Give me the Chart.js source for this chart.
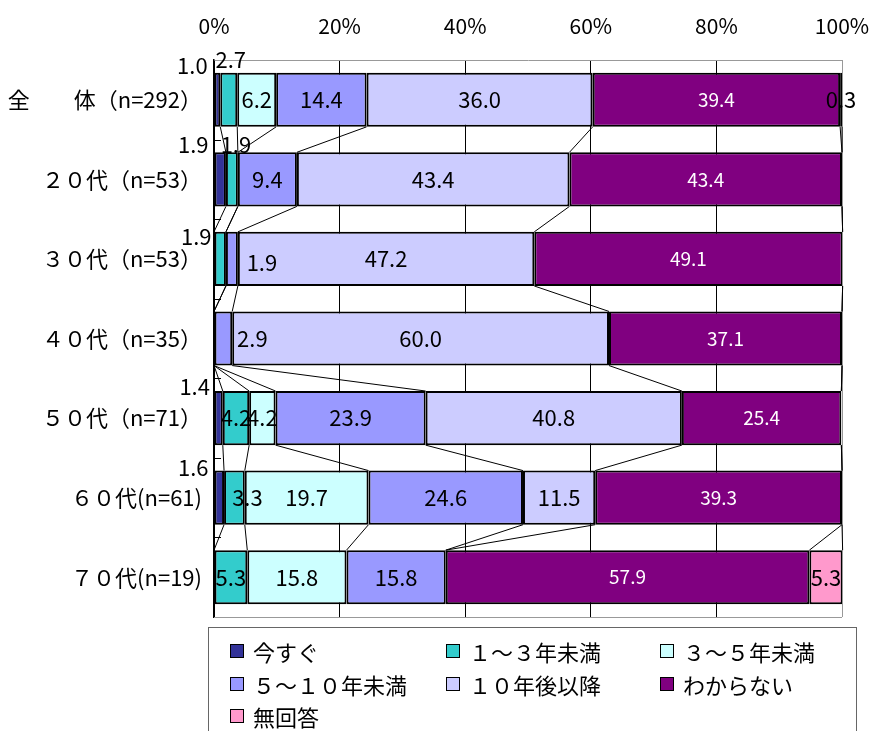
<!DOCTYPE html>
<html>
<head>
<meta charset="utf-8">
<script src="https://cdn.jsdelivr.net/npm/chart.js@4/dist/chart.umd.min.js"></script>
<style>
  body { margin: 0; background: #fff; }
  #wrap { position: relative; width: 871px; height: 731px; overflow: hidden; }
  #chart { position: absolute; left: 0; top: 0; }
  #legend {
    position: absolute; left: 208px; top: 627px; width: 649px; height: 130px;
    border: 1px solid #666; box-sizing: border-box;
    padding: 7px 0 0 21px;
    display: grid; grid-template-columns: 216px 214px 180px; grid-auto-rows: 32.5px;
    font-family: "Noto Sans CJK JP", sans-serif; font-size: 22px; color: #000;
  }
  #legend .item { display: flex; align-items: center; white-space: nowrap; }
  #legend .box { width: 12px; height: 12px; border: 1px solid #000; margin-right: 9px; }
</style>
</head>
<body>
<div id="wrap">
  <canvas id="chart" width="871" height="731"></canvas>
  <div id="legend"></div>
</div>
<script>
var categories = ['全　　体（n=292）', '２０代（n=53）', '３０代（n=53）', '４０代（n=35）', '５０代（n=71）', '６０代(n=61)', '７０代(n=19)'];
var seriesNames = ['今すぐ', '１～３年未満', '３～５年未満', '５～１０年未満', '１０年後以降', 'わからない', '無回答'];
var imaSugu   = [1.0, 1.9, 0,    0,    1.4,  1.6,  0];
var y1to3     = [2.7, 1.9, 1.9,  0,    4.2,  3.3,  5.3];
var y3to5     = [6.2, 0,   0,    0,    4.2,  19.7, 15.8];
var y5to10    = [14.4, 9.4, 1.9, 2.9,  23.9, 24.6, 15.8];
var y10plus   = [36.0, 43.4, 47.2, 60.0, 40.8, 11.5, 0];
var wakaranai = [39.4, 43.4, 49.1, 37.1, 25.4, 39.3, 57.9];
var mukaitou  = [0.3, 0,   0,    0,    0,    0,    5.3];
var xTicks = [0, 20, 40, 60, 80, 100];

var seriesValues = [imaSugu, y1to3, y3to5, y5to10, y10plus, wakaranai, mukaitou];
var colors = ['#333399', '#33CCCC', '#CCFFFF', '#9999FF', '#CCCCFF', '#800080', '#FF99CC'];
var labelColors = ['#000', '#000', '#000', '#000', '#000', '#fff', '#000'];

// small labels moved off their segment, like the original
var labelShift = {
  '0-0': [-25, -34], '0-1': [-27, -35], '0-4': [-24, -31], '0-5': [-26, -30],
  '1-0': [2, -40], '1-1': [4, -35], '1-2': [-24, -22], '1-5': [13, 0],
  '3-2': [30, 4], '3-3': [29, 0]
};

var FONT = '"Noto Sans CJK JP", sans-serif';

var datasets = seriesValues.map(function(vals, i) {
  return {
    label: seriesNames[i],
    data: vals,
    backgroundColor: colors[i],
    borderColor: '#000',
    borderWidth: function(c) { return c.raw > 0 ? 2 : 0; },
    borderSkipped: false,
    categoryPercentage: 1,
    barPercentage: 0.68
  };
});

var extras = {
  id: 'extras',
  afterDatasetsDraw: function(chart) {
    var ctx = chart.ctx, area = chart.chartArea;
    ctx.save();
    // bottom frame line
    ctx.strokeStyle = '#999';
    ctx.lineWidth = 1;
    ctx.beginPath();
    ctx.moveTo(area.left, area.bottom + 0.5);
    ctx.lineTo(area.right, area.bottom + 0.5);
    ctx.stroke();

    // inner tick marks on the category axis
    var meta0 = chart.getDatasetMeta(0);
    ctx.strokeStyle = '#000';
    for (var r = 0; r < categories.length - 1; r++) {
      var yb = (meta0.data[r].y + meta0.data[r + 1].y) / 2;
      ctx.beginPath();
      ctx.moveTo(area.left, Math.round(yb) + 0.5);
      ctx.lineTo(area.left + 7, Math.round(yb) + 0.5);
      ctx.stroke();
    }

    // series lines between bars
    ctx.lineWidth = 1;
    for (var d = 0; d < seriesValues.length; d++) {
      var meta = chart.getDatasetMeta(d);
      for (var r2 = 0; r2 < categories.length - 1; r2++) {
        var a = meta.data[r2], b = meta.data[r2 + 1];
        ctx.beginPath();
        ctx.moveTo(a.x, a.y + a.height / 2);
        ctx.lineTo(b.x, b.y - b.height / 2);
        ctx.stroke();
      }
    }

    // value labels
    ctx.textAlign = 'center';
    ctx.textBaseline = 'middle';
    for (var d2 = 0; d2 < seriesValues.length; d2++) {
      var m = chart.getDatasetMeta(d2);
      ctx.fillStyle = labelColors[d2];
      ctx.font = (d2 === 5 ? '19px ' : '22px ') + FONT;
      seriesValues[d2].forEach(function(v, r3) {
        if (!v) return;
        var el = m.data[r3];
        var cx = (el.x + el.base) / 2, cy = el.y;
        var s = labelShift[d2 + '-' + r3];
        if (s) { cx += s[0]; cy += s[1]; }
        ctx.fillText(v.toFixed(1), cx, cy);
      });
    }
    ctx.restore();
  }
};

new Chart(document.getElementById('chart'), {
  type: 'bar',
  data: { labels: categories, datasets: datasets },
  plugins: [extras],
  options: {
    indexAxis: 'y',
    responsive: false,
    animation: false,
    layout: { padding: { top: 0, right: 29, bottom: 114, left: 0 } },
    plugins: { legend: { display: false }, tooltip: { enabled: false } },
    scales: {
      x: {
        position: 'top',
        stacked: true,
        min: 0, max: 100,
        afterBuildTicks: function(scale) { scale.ticks = xTicks.map(function(v) { return { value: v }; }); },
        afterFit: function(scale) {
          scale.height = 60;
          scale.paddingLeft = 0;
          scale.paddingRight = 0;
        },
        ticks: {
          padding: 21,
          color: '#000',
          font: { family: FONT, size: 21 },
          callback: function(v) { return v + '%'; }
        },
        grid: {
          drawTicks: false,
          color: function(c) { return c.tick && c.tick.value === 100 ? '#999' : '#000'; },
          lineWidth: 1
        },
        border: { color: '#999', width: 1 }
      },
      y: {
        stacked: true,
        afterFit: function(scale) { scale.width = 214; },
        ticks: {
          padding: 12,
          color: '#000',
          font: { family: FONT, size: 22 }
        },
        grid: { display: false, drawTicks: false },
        border: { color: '#000', width: 1.5 }
      }
    }
  }
});

var legend = document.getElementById('legend');
seriesNames.forEach(function(name, i) {
  var item = document.createElement('div');
  item.className = 'item';
  var box = document.createElement('span');
  box.className = 'box';
  box.style.background = colors[i];
  item.appendChild(box);
  item.appendChild(document.createTextNode(name));
  legend.appendChild(item);
});
</script>
</body>
</html>
